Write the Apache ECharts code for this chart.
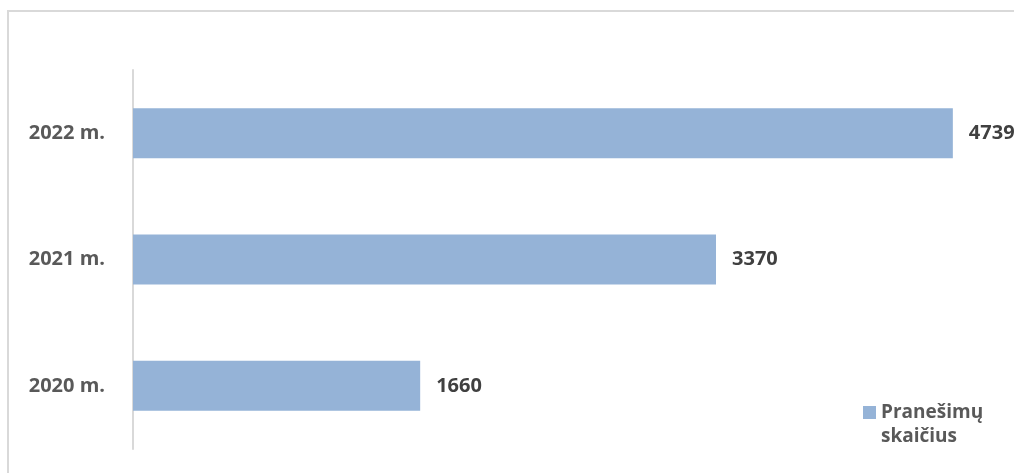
<!DOCTYPE html>
<html>
<head>
<meta charset="utf-8">
<script src="https://cdn.jsdelivr.net/npm/echarts@6/dist/echarts.min.js"></script>
<style>html,body{margin:0;padding:0;background:#fff;}#c{width:1017px;height:473px;}</style>
</head>
<body>
<div id="c"></div>
<script>
const categories = ['2020 m.', '2021 m.', '2022 m.'];
const values = [1660, 3370, 4739];
const seriesName = 'Pranešimų\nskaičius';

const chart = echarts.init(document.getElementById('c'));
chart.setOption({
  animation: false,
  backgroundColor: '#fff',
  graphic: [
    { type: 'line', shape: { x1: 8, y1: 11, x2: 8, y2: 480 }, style: { stroke: '#d9d9d9', lineWidth: 2 } },
    { type: 'line', shape: { x1: 7, y1: 11, x2: 1014, y2: 11 }, style: { stroke: '#d9d9d9', lineWidth: 2 } }
  ],
  grid: { left: 133, top: 70, width: 865, height: 379 },
  legend: {
    data: [seriesName],
    left: 858, top: 396,
    icon: 'path://M0,0L0.01,0L0.01,0.01Z M0,5L13,5L13,18L0,18Z M0,47.99L0.01,47.99L0.01,48Z',
    itemWidth: 13, itemHeight: 48, itemGap: 6,
    textStyle: { fontFamily: 'Open Sans', fontWeight: 'bold', fontSize: 19, color: '#595959', lineHeight: 24 }
  },
  xAxis: {
    type: 'value', min: 0, max: 5000,
    axisLine: { show: false }, axisTick: { show: false }, axisLabel: { show: false }, splitLine: { show: false }
  },
  yAxis: {
    type: 'category', data: categories,
    axisLine: { show: true, lineStyle: { color: '#d9d9d9', width: 2 } },
    axisTick: { show: false },
    axisLabel: { margin: 28, fontFamily: 'Open Sans', fontWeight: 'bold', fontSize: 20, color: '#595959' }
  },
  series: [{
    name: seriesName, type: 'bar', data: values,
    barWidth: 50,
    itemStyle: { color: '#95b3d7' },
    label: { show: true, position: 'right', distance: 16, fontFamily: 'Open Sans', fontWeight: 'bold', fontSize: 20, color: '#404040' }
  }]
});
</script>
</body>
</html>
